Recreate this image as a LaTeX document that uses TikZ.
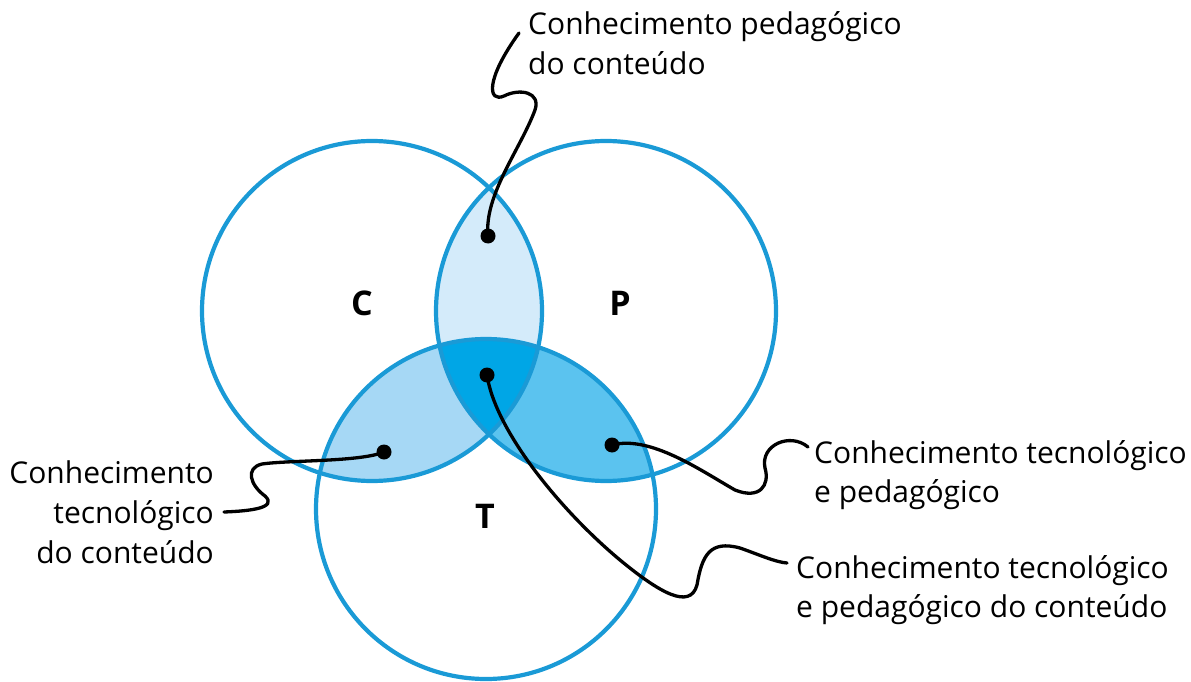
\documentclass[tikz,border=0pt]{standalone}
\usepackage{fontspec}
\setmainfont{Open Sans}
\definecolor{cline}{HTML}{1A9AD6}
\definecolor{fCP}{HTML}{D4EBFA}
\definecolor{fCT}{HTML}{A6D8F5}
\definecolor{fPT}{HTML}{5BC3EF}
\definecolor{fCPT}{HTML}{00A6E6}
\begin{document}
\begin{tikzpicture}[x=1pt,y=-1pt,
  ring/.style={draw=cline,line width=4.2pt},
  dotnode/.style={circle,fill=black,inner sep=0pt,minimum size=15pt},
  conn/.style={draw=black,line width=3.3pt,line cap=round},
  lab/.style={inner sep=0pt,font=\fontsize{30}{40}\selectfont},
  big/.style={inner sep=0pt,font=\fontsize{34}{40}\selectfont\bfseries}]
\useasboundingbox (0,0) rectangle (1191,682);
\coordinate (cC) at (372,311);
\coordinate (cP) at (606,311);
\coordinate (cT) at (486,509);
% fills
\begin{scope}\clip (cC) circle (170pt); \fill[fCP] (cP) circle (170pt); \end{scope}
\begin{scope}\clip (cC) circle (170pt); \fill[fCT] (cT) circle (170pt); \end{scope}
\begin{scope}\clip (cP) circle (170pt); \fill[fPT] (cT) circle (170pt); \end{scope}
\begin{scope}\clip (cC) circle (170pt); \clip (cP) circle (170pt); \fill[fCPT] (cT) circle (170pt); \end{scope}
% rings
\draw[ring] (cC) circle (170pt);
\draw[ring] (cP) circle (170pt);
\draw[ring] (cT) circle (170pt);
% set letters
\node[big] (lC) at (362,303) {C};
\node[big] (lP) at (620,303) {P};
\node[big] (lT) at (485,516) {T};
% dots
\node[dotnode] (d1) at (488,236) {};
\node[dotnode] (d2) at (384,452) {};
\node[dotnode] (d3) at (612,445) {};
\node[dotnode] (d4) at (487,375) {};
% labels
\node[lab,anchor=base west] (t1a) at (528,35) {Conhecimento pedagógico};
\node[lab,anchor=base west] (t1b) at (528,75) {do conteúdo};
\node[lab,anchor=base east] (t2a) at (214,483) {Conhecimento};
\node[lab,anchor=base east] (t2b) at (214,523) {tecnológico};
\node[lab,anchor=base east] (t2c) at (214,563) {do conteúdo};
\node[lab,anchor=base west] (t3a) at (814,463) {Conhecimento tecnológico};
\node[lab,anchor=base west] (t3b) at (814,502) {e pedagógico};
\node[lab,anchor=base west] (t4a) at (796,578) {Conhecimento tecnológico};
\node[lab,anchor=base west] (t4b) at (796,617) {e pedagógico do conteúdo};
% connector ends
\coordinate (e1) at (519,33);
\coordinate (e2) at (224,512);
\coordinate (e3) at (808,447);
\coordinate (e4) at (787,563);
% connectors
\draw[conn] (d1.center) .. controls (484,195) and (520,150) .. (535,110)
  .. controls (541,92) and (520,88) .. (504,96)
  .. controls (488,103) and (485,80) .. (e1);
\draw[conn] (d2.center) .. controls (360,462) and (290,460) .. (262,464)
  .. controls (245,468) and (250,485) .. (265,496)
  .. controls (278,508) and (250,511) .. (e2);
\draw[conn] (d3.center) .. controls (650,435) and (700,470) .. (735,490)
  .. controls (760,500) and (770,485) .. (765,468)
  .. controls (760,445) and (790,432) .. (e3);
\draw[conn] (d4.center) .. controls (495,430) and (560,510) .. (620,560)
  .. controls (660,593) and (690,610) .. (697,585)
  .. controls (702,555) and (710,540) .. (740,548)
  .. controls (760,555) and (775,562) .. (e4);
\end{tikzpicture}
\end{document}
